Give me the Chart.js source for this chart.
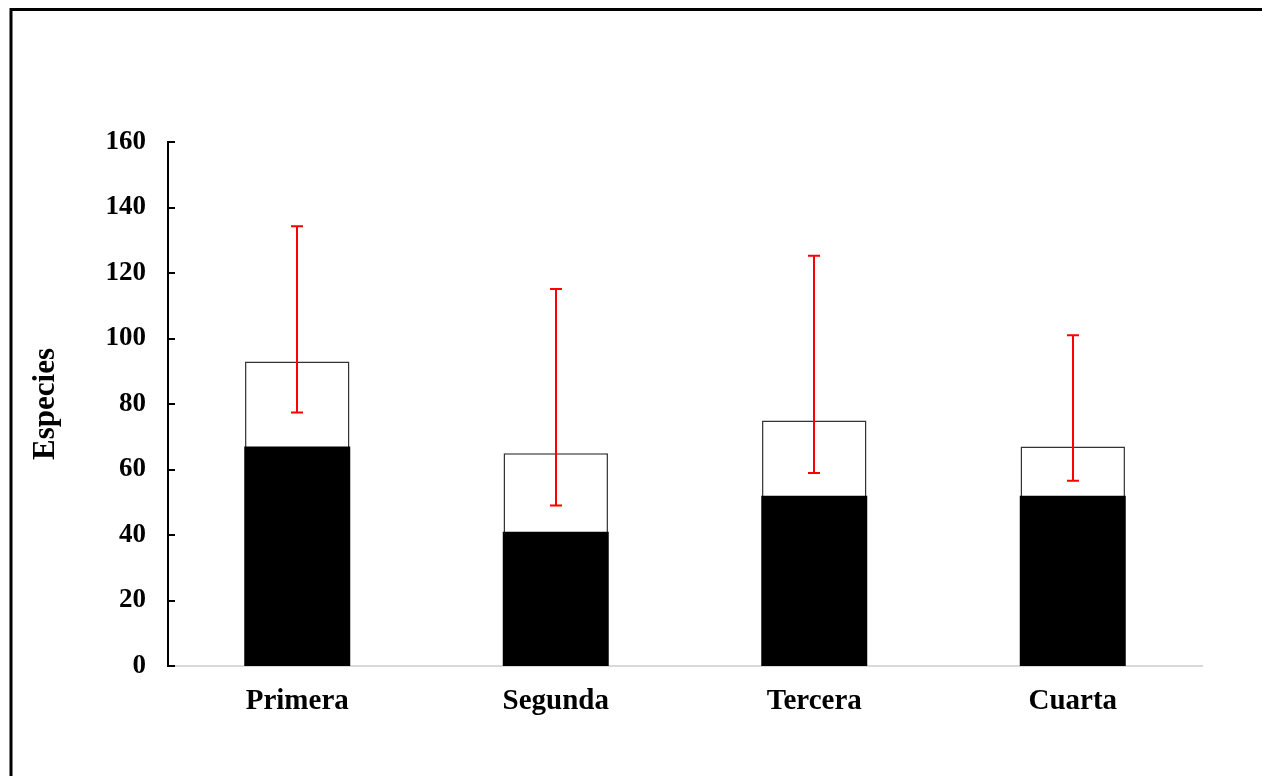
<!DOCTYPE html>
<html>
<head>
<meta charset="utf-8">
<title>Especies por muestreo</title>
<script src="https://cdn.jsdelivr.net/npm/chart.js@4.4.1/dist/chart.umd.min.js"></script>
<style>
  html, body { margin: 0; padding: 0; background: #ffffff; }
  #wrap { width: 1262px; height: 776px; position: relative; }
</style>
</head>
<body>
<div id="wrap"><canvas id="chart" width="1262" height="776"></canvas></div>
<script>
// Muestreos
const categories = ['Primera', 'Segunda', 'Tercera', 'Cuarta'];
// Especies totales (barra blanca) y especies de la fracción principal (barra negra)
const totalSpecies = [93, 65, 75, 67];
const coreSpecies = [67, 41, 52, 52];
// Intervalo estimado (líneas rojas)
const rangeLow = [77.4, 49.0, 58.9, 56.6];
const rangeHigh = [134.3, 115.1, 125.3, 101.0];
// Eje Y
const yTicks = [0, 20, 40, 60, 80, 100, 120, 140, 160];

const serif = '"Liberation Serif", "Times New Roman", serif';

// Outer frame, inward tick marks and the red range bars
const decorations = {
  id: 'decorations',
  afterDatasetsDraw(chart) {
    const ctx = chart.ctx;
    const x = chart.scales.x;
    const y = chart.scales.y;
    ctx.save();
    ctx.strokeStyle = '#ff0000';
    ctx.lineWidth = 2;
    categories.forEach((c, i) => {
      const px = Math.round(x.getPixelForValue(i));
      const top = y.getPixelForValue(rangeHigh[i]);
      const bot = y.getPixelForValue(rangeLow[i]);
      ctx.beginPath();
      ctx.moveTo(px, top); ctx.lineTo(px, bot);
      ctx.moveTo(px - 6, top); ctx.lineTo(px + 6, top);
      ctx.moveTo(px - 6, bot); ctx.lineTo(px + 6, bot);
      ctx.stroke();
    });
    ctx.restore();
  },
  afterDraw(chart) {
    const ctx = chart.ctx;
    const y = chart.scales.y;
    ctx.save();
    ctx.strokeStyle = '#000000';
    ctx.lineWidth = 2;
    yTicks.forEach(v => {
      const py = Math.round(y.getPixelForValue(v));
      ctx.beginPath();
      ctx.moveTo(chart.chartArea.left, py);
      ctx.lineTo(chart.chartArea.left + 7, py);
      ctx.stroke();
    });
    ctx.lineWidth = 3;
    ctx.strokeRect(11, 9.5, 1300, 820);
    ctx.restore();
  }
};

new Chart(document.getElementById('chart'), {
  type: 'bar',
  data: {
    labels: categories,
    datasets: [
      {
        label: 'Fracción principal',
        data: coreSpecies,
        backgroundColor: '#000000',
        borderColor: '#333333',
        borderWidth: 0,
        barPercentage: 0.41,
        categoryPercentage: 1
      },
      {
        label: 'Total',
        data: totalSpecies,
        backgroundColor: '#ffffff',
        borderColor: '#333333',
        borderWidth: 1.5,
        barPercentage: 0.404,
        categoryPercentage: 1
      }
    ]
  },
  options: {
    responsive: false,
    animation: false,
    grouped: false,
    layout: { padding: { top: 142, right: 60, left: 0, bottom: 0 } },
    plugins: {
      legend: { display: false },
      tooltip: { enabled: false },
      title: { display: false }
    },
    scales: {
      x: {
        grid: { display: false, drawTicks: false },
        border: { display: true, color: '#d9d9d9', width: 2 },
        ticks: {
          color: '#000000',
          padding: 18,
          font: { family: serif, size: 29, weight: 'bold' }
        },
        afterFit(scale) { scale.height = 110; }
      },
      y: {
        min: 0,
        max: 160,
        afterBuildTicks(scale) { scale.ticks = yTicks.map(v => ({ value: v })); },
        grid: { display: false, drawTicks: false },
        border: { display: true, color: '#000000', width: 2 },
        ticks: {
          color: '#000000',
          padding: 22,
          font: { family: serif, size: 27, weight: 'bold' }
        },
        title: {
          display: true,
          text: 'Especies',
          color: '#000000',
          padding: { top: 27, bottom: 0 },
          font: { family: serif, size: 31, weight: 'bold' }
        },
        afterFit(scale) { scale.width = 168; }
      }
    }
  },
  plugins: [decorations]
});
</script>
</body>
</html>
